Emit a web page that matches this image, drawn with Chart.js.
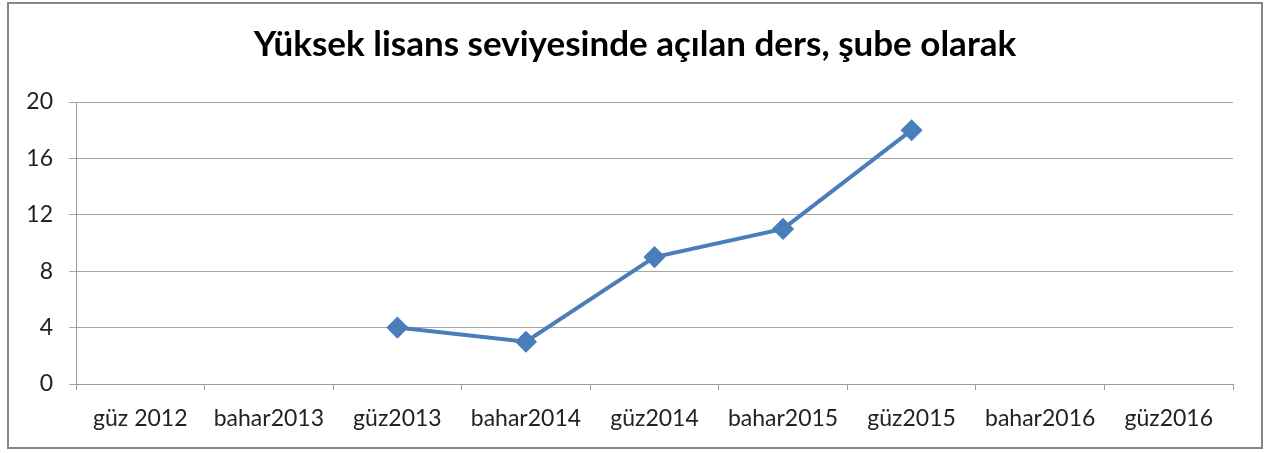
<!DOCTYPE html>
<html>
<head>
<meta charset="utf-8">
<script src="https://cdn.jsdelivr.net/npm/chart.js@4"></script>
<style>
  body { margin: 0; background: #fff; }
  #box {
    position: absolute; left: 7px; top: 2px;
    width: 1256px; height: 447px;
    border: 2px solid #878787; box-sizing: border-box;
  }
</style>
</head>
<body>
<div id="box"><canvas id="myChart"></canvas></div>
<script>
const donemler = ['güz 2012', 'bahar2013', 'güz2013', 'bahar2014', 'güz2014', 'bahar2015', 'güz2015', 'bahar2016', 'güz2016'];
const subeSayisi = [null, null, 4, 3, 9, 11, 18, null, null];
const yTicks = [0, 4, 8, 12, 16, 20];

const fontAile = 'Lato, "Open Sans", sans-serif';

const config = {
  type: 'line',
  data: {
    labels: donemler,
    datasets: [{
      label: 'şube',
      data: subeSayisi,
      borderColor: '#4a7ebb',
      backgroundColor: '#4a7ebb',
      borderWidth: 4,
      pointStyle: 'rectRot',
      pointRadius: 10,
      pointBorderWidth: 1.5,
      tension: 0,
      spanGaps: false
    }]
  },
  options: {
    responsive: false,
    animation: false,
    layout: { padding: 0 },
    plugins: {
      legend: { display: false },
      tooltip: { enabled: false },
      title: {
        display: true,
        text: 'Yüksek lisans seviyesinde açılan ders, şube olarak',
        color: '#000',
        font: { family: fontAile, size: 35, weight: 'bold' },
        padding: { top: 20, bottom: 36 }
      }
    },
    scales: {
      x: {
        offset: true,
        grid: {
          offset: true,
          drawOnChartArea: false,
          drawTicks: true,
          tickLength: 6,
          color: '#9a9a9a'
        },
        border: { color: '#9a9a9a', width: 1 },
        ticks: {
          color: '#222',
          font: { family: fontAile, size: 23 },
          padding: 15,
          maxRotation: 0,
          autoSkip: false
        },
        afterFit: (s) => { s.height = 63; }
      },
      y: {
        min: 0,
        max: 20,
        afterBuildTicks: (s) => { s.ticks = yTicks.map(v => ({ value: v })); },
        grid: { color: '#a6a6a6', tickLength: 7 },
        border: { color: '#9a9a9a', width: 1 },
        ticks: {
          color: '#222',
          font: { family: fontAile, size: 23 },
          padding: 16
        },
        afterFit: (s) => { s.width = 67; }
      },
      // sağda boş yer için görünmez eksen
      bos: {
        position: 'right',
        min: 0,
        max: 20,
        grid: { drawOnChartArea: false, drawTicks: false },
        border: { display: false },
        ticks: { display: false },
        afterFit: (s) => { s.width = 28; }
      }
    }
  }
};

const cv = document.getElementById('myChart');
cv.width = 1252;
cv.height = 443;
cv.style.width = '1252px';
cv.style.height = '443px';
const myChart = new Chart(cv, config);
</script>
</body>
</html>
